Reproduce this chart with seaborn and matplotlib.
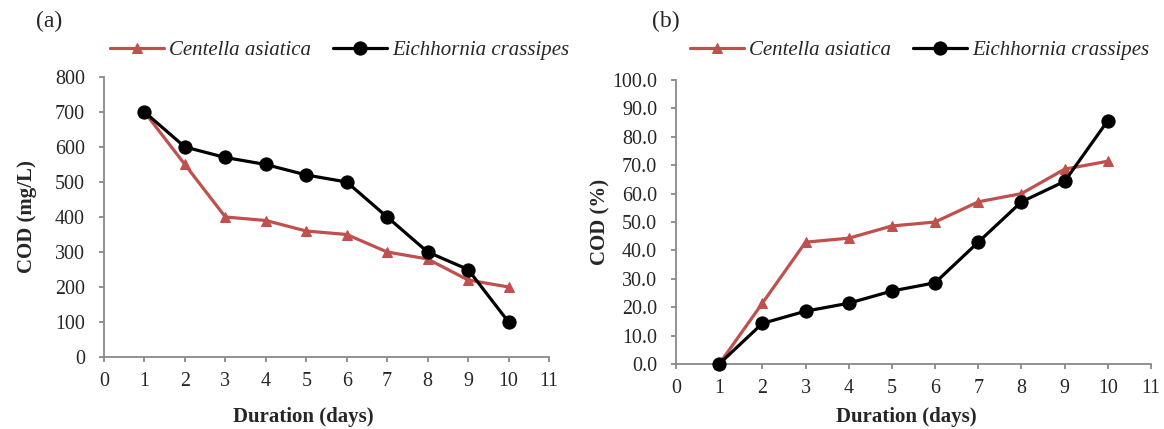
import numpy as np
import pandas as pd
import matplotlib
matplotlib.use("Agg")
import matplotlib.pyplot as plt
import seaborn as sns

# Measured COD over the treatment period
days = [1, 2, 3, 4, 5, 6, 7, 8, 9, 10]
centella_cod = [700, 550, 400, 390, 360, 350, 300, 280, 220, 200]
eichhornia_cod = [700, 600, 570, 550, 520, 500, 400, 300, 250, 100]

# COD removal (%) relative to day 1
centella_pct = [0.0, 21.4, 42.9, 44.3, 48.6, 50.0, 57.1, 60.0, 68.6, 71.4]
eichhornia_pct = [0.0, 14.3, 18.6, 21.4, 25.7, 28.6, 42.9, 57.1, 64.3, 85.7]

species = ["Centella asiatica", "Eichhornia crassipes"]
colors = {"Centella asiatica": "#C0504D", "Eichhornia crassipes": "#000000"}
markers = {"Centella asiatica": "^", "Eichhornia crassipes": "o"}
msizes = {"Centella asiatica": 7, "Eichhornia crassipes": 9.5}

def long_frame(a, b):
    return pd.DataFrame({
        "day": days + days,
        "value": a + b,
        "species": [species[0]] * len(days) + [species[1]] * len(days),
    })

sns.set_theme(style="white")
plt.rcParams["font.family"] = ["Liberation Serif", "DejaVu Serif"]

fig = plt.figure(figsize=(11.64, 4.29), dpi=100)
W, H = 1164, 429
ax_a = fig.add_axes([104 / W, 1 - 357 / H, (549 - 104) / W, (357 - 77) / H])
ax_b = fig.add_axes([676 / W, 1 - 364 / H, (1151 - 676) / W, (364 - 80) / H])

spine_c = "#898989"

def draw(ax, df, ymax, ystep, yfmt, ylabel, tag, tag_x, leg_x,
         ylab_x, xlab_x, xlab_y):
    for sp in species:
        sub = df[df["species"] == sp]
        sns.lineplot(data=sub, x="day", y="value", ax=ax, color=colors[sp],
                     marker=markers[sp], markersize=msizes[sp],
                     markeredgecolor=colors[sp], linewidth=2.3,
                     label=sp, clip_on=False, legend=False, zorder=3)
    ax.set_xlim(0, 11)
    ax.set_ylim(0, ymax)
    ax.set_xticks(range(0, 12))
    yt = np.arange(0, ymax + ystep / 2, ystep)
    ax.set_yticks(yt)
    ax.set_yticklabels([yfmt.format(v) for v in yt])
    for s in ["top", "right"]:
        ax.spines[s].set_visible(False)
    for s in ["left", "bottom"]:
        ax.spines[s].set_color(spine_c)
        ax.spines[s].set_linewidth(1.3)
    ax.tick_params(axis="both", which="major", direction="out", length=3.6,
                   width=1.3, color=spine_c, labelsize=14.4,
                   left=True, bottom=True)
    ax.tick_params(axis="y", pad=10)
    ax.tick_params(axis="x", pad=7)
    ax.set_xlabel("Duration (days)", fontsize=15, fontweight="bold")
    ax.set_ylabel(ylabel, fontsize=15, fontweight="bold")
    ax.xaxis.label.set_va("center")
    ax.yaxis.label.set_va("center")
    ax.xaxis.set_label_coords(xlab_x, xlab_y)
    ax.yaxis.set_label_coords(ylab_x, 0.5)
    fig.text(tag_x / W, 1 - 21 / H, tag, fontsize=17, ha="left", va="center")
    handles, labels = ax.get_legend_handles_labels()
    fig.legend(handles, labels, loc="center left",
               bbox_to_anchor=(leg_x / W, 1 - 50 / H), ncol=2,
               frameon=False, prop={"style": "italic", "size": 15},
               handlelength=2.6, handletextpad=0.25, columnspacing=1.05,
               borderaxespad=0, borderpad=0)

draw(ax_a, long_frame(centella_cod, eichhornia_cod), 800, 100, "{:.0f}",
     "COD (mg/L)", "(a)", 36, 110, -0.173, 0.448, -0.214)
draw(ax_b, long_frame(centella_pct, eichhornia_pct), 100, 10, "{:.1f}",
     "COD (%)", "(b)", 652, 690, -0.16, 0.484, -0.187)

fig.savefig("out.png", dpi=100)
